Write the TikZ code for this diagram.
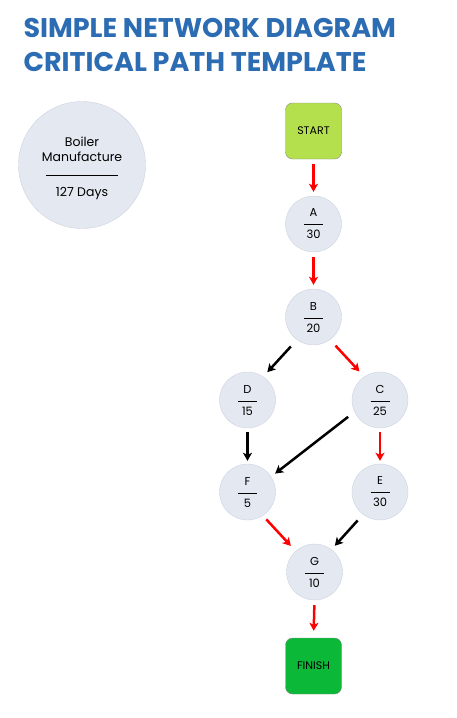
\documentclass[tikz,border=0pt]{standalone}
\usepackage{fontspec}
\setmainfont{Poppins}
\usetikzlibrary{arrows.meta}

\definecolor{titleblue}{RGB}{44,108,178}
\definecolor{nodefill}{RGB}{228,232,241}
\definecolor{nodeedge}{RGB}{204,210,224}
\definecolor{startfill}{RGB}{180,224,78}
\definecolor{finishfill}{RGB}{12,184,56}
\definecolor{boxedge}{RGB}{140,140,140}

\newcommand{\activity}[2]{#1\\\rule[3pt]{19pt}{0.5pt}\\#2}

\begin{document}
\begin{tikzpicture}[x=1pt, y=-1pt,
      activity/.style = {circle, draw=nodeedge, fill=nodefill, minimum size=56pt,
                         inner sep=0pt, align=center,
                         font=\fontsize{11.5}{11}\selectfont},
      terminal/.style = {draw=boxedge, rounded corners=7pt, minimum size=56pt,
                         inner sep=0pt, font=\fontsize{11}{11}\selectfont},
      link/.style = {line width=2.5pt, shorten <= 6pt, shorten >= 6pt,
                     arrows={-Stealth[length=8pt, width=9pt, inset=2pt]}},
      critical/.style = {link, draw=red},
    ]
    \useasboundingbox (0,0) rectangle (457,718);

    %% Title
    \node (title) [anchor=base west, align=left, text=titleblue,
                   font=\fontsize{27}{34}\selectfont\bfseries] at (20,71.7)
      {SIMPLE NETWORK DIAGRAM\\CRITICAL PATH TEMPLATE};

    %% Project summary
    \node (summary) [activity, minimum size=127pt,
                     font=\fontsize{12.5}{15.3}\selectfont] at (82,165)
      {\rule{0pt}{16pt}Boiler\\Manufacture\\\rule[1.6pt]{72pt}{0.5pt}\\[4pt]127 Days};

    %% Start and finish
    \node (start) [terminal, fill=startfill] at (313.5,131) {START};
    \node (finish) [terminal, fill=finishfill] at (313.5,666) {FINISH};

    %% The activities
    \foreach \n/\x/\y/\d in {A/313.5/224/30, B/313.5/317/20, D/247.5/400/15,
                             C/380/400/25, F/247.5/492/5, E/380/492/30,
                             G/314.5/572/10}{%
      \node (\n) [activity] at (\x,\y) {\activity{\n}{\d}};
    }

    %% Critical path
    \draw [critical, shorten <= 5pt, shorten >= 4pt] (start.south) -- (A.north);
    \draw [critical, shorten <= 5pt, shorten >= 4pt] (A.south) -- (B.north);
    \draw [critical, shorten <= 8pt, shorten >= 7pt] (B.306) -- (C.124);
    \draw [critical, shorten <= 4pt, shorten >= 3pt] (C.south) -- (E.north);
    \draw [critical, shorten <= 5pt, shorten >= 7pt] (F.-57) -- (G.132);
    \draw [critical, shorten <= 5pt, shorten >= 7pt] (G.south) -- (finish.north);

    %% Other links
    \draw [link, shorten <= 9pt, shorten >= 6pt] (B.234) -- (D.56);
    \draw [link, shorten <= 4pt, shorten >= 3pt] (D.south) -- (F.north);
    \draw [link, shorten <= 8pt, shorten >= 5pt] (C.205) -- (F.33);
    \draw [link, shorten <= 8pt, shorten >= 5pt] (E.233) -- (G.53);
  \end{tikzpicture}
\end{document}
